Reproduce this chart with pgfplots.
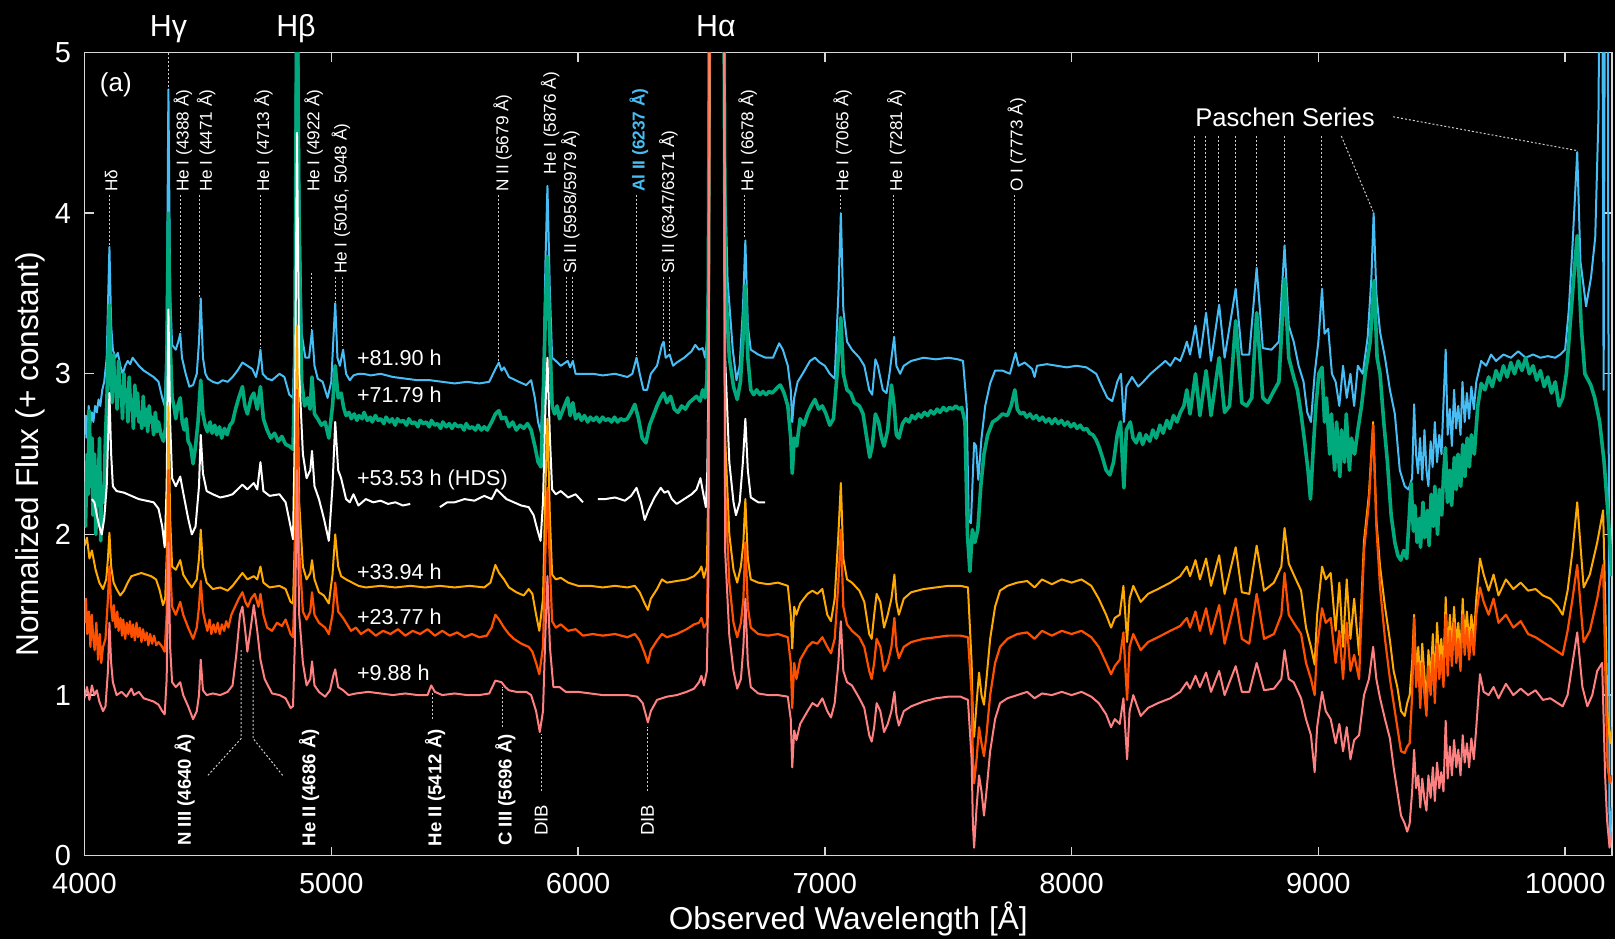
\documentclass[border=0pt]{standalone}
\usepackage{fontspec}
\setmainfont{Liberation Sans}
\usepackage{pgfplots}
\usepackage{pgfplotstable}
\pgfplotsset{compat=1.18}
\definecolor{cBlue}{RGB}{70,190,245}
\definecolor{cGreen}{RGB}{0,170,125}
\definecolor{cOrange}{RGB}{255,170,0}
\definecolor{cRed}{RGB}{255,80,0}
\definecolor{cSalmon}{RGB}{255,128,128}
\definecolor{cAxis}{RGB}{215,215,215}
\tikzset{
 ulab/.style={rotate=90, anchor=west, inner sep=0pt, text=white, font=\fontsize{8.6}{10}\selectfont},
 blab/.style={rotate=90, anchor=east, inner sep=0pt, text=white, font=\fontsize{9.3}{11}\selectfont\bfseries},
 ann/.style={white!80!black, line width=0.5pt, dash pattern=on 1pt off 1pt},
 slab/.style={anchor=west, inner sep=0pt, text=white, font=\fontsize{10.8}{13}\selectfont},
}
\pgfplotstableread{
x y
4000 0.98
4010 1.05
4020 0.97
4030 1.06
4040 1.0
4050 1.03
4060 0.96
4075 0.9
4085 0.93
4095 1.15
4101 1.45
4108 1.2
4115 1.08
4130 1.0
4150 1.02
4170 0.99
4190 1.04
4200 1.0
4220 1.02
4240 0.98
4260 0.97
4280 0.96
4300 0.94
4315 0.9
4325 0.88
4333 1.1
4340 1.95
4347 1.3
4355 1.08
4370 1.05
4388 1.08
4400 1.0
4420 0.93
4440 0.85
4455 0.9
4464 1.0
4471 1.22
4480 1.03
4495 1.0
4520 1.01
4550 1.0
4580 1.02
4600 1.06
4615 1.25
4630 1.5
4640 1.55
4650 1.42
4660 1.27
4672 1.4
4686 1.56
4700 1.4
4713 1.22
4730 1.1
4760 1.01
4790 1.0
4815 0.98
4835 0.92
4845 0.93
4852 1.3
4861 2.4
4870 1.5
4885 1.2
4900 1.06
4915 1.1
4922 1.21
4932 1.06
4950 1.02
4975 0.99
4995 1.03
5008 1.12
5016 1.16
5028 1.05
5048 1.03
5070 1.0
5100 1.01
5150 1.02
5200 1.01
5250 1.0
5300 1.01
5350 1.0
5390 1.0
5405 1.06
5420 1.02
5450 1.0
5500 1.01
5550 1.0
5600 1.0
5640 1.01
5665 1.09
5690 1.08
5705 1.05
5720 1.03
5750 1.02
5790 1.02
5810 1.0
5830 0.9
5845 0.77
5858 0.9
5868 1.4
5876 1.74
5886 1.3
5900 1.05
5925 1.05
5950 1.02
6000 1.02
6050 1.01
6100 1.0
6150 1.0
6200 1.0
6240 0.99
6262 0.95
6283 0.83
6295 0.9
6320 0.97
6360 0.99
6400 1.0
6440 1.02
6470 1.04
6490 1.08
6500 1.12
6510 1.06
6522 1.15
6528 1.7
6534 6
6545 9
6563 12
6580 9
6590 6
6596 1.9
6613 1.37
6630 1.15
6645 1.04
6660 1.1
6670 1.3
6678 1.6
6688 1.2
6700 1.05
6730 1.01
6770 1.0
6810 1.0
6850 0.99
6862 0.85
6868 0.55
6876 0.78
6885 0.72
6900 0.82
6930 0.9
6950 0.95
6970 0.93
6990 0.98
7010 0.9
7025 0.86
7040 0.95
7055 1.2
7065 1.46
7075 1.15
7090 1.08
7110 1.06
7140 0.98
7160 0.92
7180 0.75
7190 0.71
7200 0.8
7210 0.95
7225 0.9
7240 0.77
7255 0.82
7270 0.9
7282 1.02
7290 0.88
7300 0.81
7320 0.9
7350 0.93
7400 0.96
7450 0.98
7500 0.99
7550 0.99
7580 0.97
7595 0.6
7600 0.2
7605 0.05
7615 0.3
7625 0.5
7635 0.4
7645 0.25
7655 0.4
7670 0.65
7690 0.85
7710 0.95
7740 0.98
7780 1.0
7820 1.02
7850 0.98
7880 1.01
7920 1.0
7960 1.02
8000 1.0
8040 1.02
8080 0.99
8110 0.95
8140 0.88
8160 0.8
8175 0.85
8195 0.82
8210 0.98
8225 0.6
8235 0.9
8250 1.0
8280 0.87
8310 0.92
8350 0.95
8400 0.98
8440 1.02
8467 1.08
8480 1.04
8502 1.12
8520 1.05
8545 1.14
8565 1.02
8598 1.15
8620 1.0
8665 1.18
8690 1.02
8720 1.02
8750 1.2
8780 1.03
8820 1.04
8850 1.1
8863 1.28
8880 1.1
8900 1.08
8930 0.98
8950 0.85
8970 0.75
8985 0.52
8995 0.8
9015 1.02
9030 0.9
9050 0.85
9070 0.7
9085 0.82
9100 0.65
9115 0.8
9130 0.6
9145 0.72
9165 0.75
9185 1.0
9205 1.1
9222 1.3
9235 1.1
9250 0.98
9270 0.85
9290 0.73
9305 0.55
9320 0.4
9335 0.25
9350 0.2
9360 0.15
9370 0.2
9380 0.4
9388 0.66
9396 0.42
9405 0.5
9413 0.3
9421 0.48
9430 0.35
9438 0.28
9446 0.5
9455 0.36
9464 0.55
9472 0.34
9481 0.58
9490 0.42
9498 0.52
9507 0.4
9516 0.84
9524 0.48
9533 0.68
9541 0.5
9550 0.72
9559 0.55
9567 0.66
9576 0.5
9585 0.75
9593 0.58
9602 0.7
9611 0.55
9620 0.73
9630 0.6
9640 0.8
9655 1.13
9670 1.02
9690 1.0
9710 1.05
9730 0.98
9760 1.07
9790 1.0
9820 1.04
9850 1.0
9880 1.03
9910 0.97
9940 0.98
9970 0.95
9990 0.93
10010 1.0
10030 1.2
10049 1.39
10070 1.05
10090 0.93
10110 1.0
10130 1.15
10150 1.2
10162 0.5
10170 0.22
10180 0.05
10190 0.15
}\tSalmon
\pgfplotstableread{
x y
4000 1.45
4006 1.6
4011 1.38
4018 1.52
4024 1.3
4029 1.5
4036 1.35
4041 1.28
4048 1.45
4055 1.22
4062 1.38
4068 1.2
4075 1.3
4085 1.35
4095 1.6
4101 1.8
4108 1.55
4114 1.46
4119 1.56
4126 1.42
4133 1.52
4138 1.4
4146 1.48
4152 1.37
4157 1.47
4165 1.35
4171 1.45
4178 1.38
4184 1.46
4191 1.36
4197 1.44
4204 1.34
4211 1.45
4217 1.36
4224 1.42
4231 1.33
4237 1.41
4245 1.34
4252 1.39
4259 1.31
4266 1.38
4274 1.32
4282 1.37
4291 1.31
4300 1.33
4315 1.3
4325 1.27
4333 1.5
4340 2.4
4347 1.8
4355 1.55
4370 1.5
4388 1.58
4400 1.5
4420 1.42
4440 1.35
4455 1.42
4464 1.55
4471 1.71
4480 1.52
4490 1.45
4498 1.4
4507 1.47
4514 1.38
4523 1.44
4531 1.39
4540 1.45
4548 1.38
4557 1.44
4566 1.4
4574 1.46
4583 1.42
4595 1.5
4610 1.55
4625 1.6
4640 1.64
4652 1.58
4662 1.55
4675 1.6
4690 1.63
4705 1.55
4713 1.63
4725 1.5
4740 1.42
4760 1.4
4780 1.45
4800 1.43
4815 1.47
4835 1.38
4845 1.36
4852 1.7
4861 2.9
4870 1.9
4885 1.52
4900 1.47
4915 1.52
4922 1.64
4932 1.5
4950 1.45
4975 1.42
4990 1.38
5005 1.5
5016 1.7
5028 1.52
5048 1.48
5060 1.45
5080 1.4
5100 1.42
5120 1.38
5150 1.41
5180 1.37
5210 1.4
5240 1.38
5270 1.41
5300 1.37
5330 1.4
5360 1.38
5390 1.41
5420 1.37
5450 1.4
5480 1.37
5510 1.39
5540 1.36
5570 1.38
5600 1.36
5630 1.37
5650 1.42
5665 1.5
5680 1.47
5700 1.42
5720 1.38
5740 1.35
5770 1.32
5800 1.3
5815 1.27
5830 1.2
5843 1.13
5858 1.3
5868 1.9
5876 2.29
5886 1.8
5895 1.46
5910 1.42
5930 1.44
5960 1.4
5990 1.41
6020 1.37
6060 1.38
6100 1.37
6150 1.38
6200 1.36
6230 1.38
6250 1.34
6270 1.26
6283 1.2
6295 1.28
6320 1.34
6340 1.38
6360 1.36
6400 1.38
6440 1.41
6470 1.44
6490 1.45
6500 1.48
6510 1.42
6522 1.45
6528 2.0
6534 6
6545 9
6563 12
6580 9
6590 6
6596 2.3
6613 1.7
6630 1.45
6645 1.36
6660 1.45
6670 1.6
6678 1.95
6688 1.55
6700 1.42
6730 1.38
6770 1.37
6810 1.38
6850 1.36
6862 1.2
6868 0.92
6876 1.2
6885 1.1
6900 1.22
6930 1.3
6950 1.33
6970 1.32
6990 1.36
7010 1.3
7025 1.26
7040 1.35
7055 1.7
7065 2.03
7075 1.55
7090 1.44
7110 1.4
7140 1.36
7160 1.3
7180 1.15
7190 1.1
7200 1.2
7210 1.35
7225 1.3
7240 1.15
7255 1.2
7270 1.3
7282 1.48
7290 1.3
7300 1.23
7320 1.3
7350 1.33
7400 1.35
7450 1.36
7500 1.37
7550 1.37
7580 1.36
7595 1.0
7600 0.6
7605 0.45
7615 0.6
7625 0.8
7635 0.7
7645 0.62
7655 0.75
7670 1.0
7690 1.2
7710 1.3
7740 1.35
7780 1.38
7820 1.39
7850 1.35
7880 1.4
7920 1.37
7960 1.4
8000 1.38
8040 1.4
8080 1.36
8110 1.3
8140 1.2
8160 1.13
8175 1.18
8195 1.22
8210 1.39
8225 0.97
8235 1.3
8250 1.38
8280 1.28
8310 1.33
8350 1.36
8400 1.4
8440 1.43
8467 1.48
8480 1.42
8502 1.52
8520 1.4
8545 1.54
8565 1.38
8598 1.56
8620 1.32
8665 1.6
8690 1.35
8720 1.32
8750 1.63
8780 1.35
8820 1.38
8850 1.5
8863 1.76
8880 1.5
8900 1.45
8930 1.38
8950 1.2
8970 1.1
8985 1.0
8995 1.3
9015 1.54
9030 1.45
9050 1.48
9070 1.2
9085 1.4
9100 1.1
9115 1.45
9130 1.15
9145 1.25
9165 1.1
9185 1.9
9205 2.2
9222 2.68
9235 2.05
9250 1.67
9270 1.35
9290 1.1
9305 0.95
9320 0.8
9335 0.65
9350 0.64
9360 0.68
9370 0.7
9380 1.0
9388 1.48
9396 1.05
9405 1.2
9413 0.92
9421 1.2
9430 1.0
9438 0.87
9446 1.18
9455 1.0
9464 1.25
9472 0.95
9481 1.32
9490 1.1
9498 1.25
9507 1.05
9516 1.5
9524 1.12
9533 1.4
9541 1.18
9550 1.45
9559 1.2
9567 1.35
9576 1.15
9585 1.5
9593 1.25
9602 1.42
9611 1.22
9620 1.4
9630 1.25
9640 1.5
9655 1.67
9670 1.58
9690 1.5
9710 1.6
9730 1.45
9760 1.5
9790 1.42
9820 1.46
9850 1.38
9880 1.36
9910 1.33
9940 1.3
9970 1.27
9990 1.25
10010 1.4
10030 1.6
10049 1.81
10075 1.33
10100 1.4
10130 1.6
10154 1.81
10165 1.0
10172 0.55
10182 0.45
10190 0.5
}\tRed
\pgfplotstableread{
x y
4000 1.93
4010 1.98
4020 1.85
4030 1.9
4045 1.78
4060 1.7
4075 1.66
4088 1.72
4095 1.85
4101 2.01
4108 1.8
4118 1.7
4130 1.66
4145 1.62
4160 1.65
4175 1.7
4190 1.74
4210 1.75
4230 1.76
4250 1.75
4270 1.74
4290 1.72
4305 1.65
4318 1.56
4327 1.6
4334 1.9
4340 2.8
4347 2.1
4355 1.8
4370 1.78
4388 1.84
4400 1.75
4420 1.7
4435 1.67
4455 1.72
4464 1.85
4471 2.03
4480 1.8
4495 1.7
4520 1.66
4550 1.67
4580 1.65
4600 1.68
4620 1.72
4640 1.76
4660 1.72
4686 1.74
4700 1.72
4713 1.8
4725 1.7
4750 1.67
4790 1.68
4815 1.66
4835 1.58
4845 1.57
4852 1.95
4861 3.3
4870 2.2
4885 1.8
4900 1.72
4915 1.76
4922 1.84
4932 1.72
4950 1.64
4970 1.62
4990 1.57
5005 1.75
5016 2.0
5028 1.8
5040 1.74
5060 1.72
5085 1.7
5110 1.68
5140 1.67
5200 1.68
5260 1.67
5320 1.68
5380 1.67
5440 1.68
5500 1.67
5560 1.68
5620 1.67
5645 1.7
5665 1.81
5680 1.76
5700 1.72
5720 1.67
5750 1.64
5780 1.62
5800 1.66
5815 1.63
5830 1.5
5843 1.4
5858 1.6
5868 2.3
5876 2.72
5886 2.1
5895 1.75
5910 1.72
5930 1.73
5960 1.7
6000 1.68
6050 1.68
6100 1.67
6150 1.68
6200 1.67
6230 1.68
6250 1.64
6270 1.57
6283 1.53
6295 1.6
6320 1.66
6340 1.72
6360 1.7
6400 1.71
6440 1.72
6470 1.74
6490 1.77
6500 1.8
6510 1.73
6522 1.8
6528 2.3
6534 6
6545 9
6563 12
6580 9
6590 6
6596 2.6
6613 2.0
6630 1.78
6645 1.7
6660 1.8
6670 1.95
6678 2.22
6688 1.85
6700 1.72
6730 1.7
6770 1.69
6810 1.7
6850 1.68
6862 1.5
6868 1.29
6876 1.55
6885 1.5
6900 1.57
6930 1.63
6950 1.65
6970 1.63
6990 1.66
7010 1.5
7025 1.46
7040 1.6
7055 2.0
7065 2.32
7075 1.85
7090 1.72
7110 1.7
7140 1.65
7160 1.58
7180 1.38
7190 1.35
7200 1.5
7210 1.63
7225 1.58
7240 1.42
7255 1.5
7270 1.6
7282 1.75
7290 1.58
7300 1.5
7320 1.6
7350 1.64
7400 1.66
7450 1.67
7500 1.68
7550 1.68
7580 1.67
7595 1.2
7600 0.85
7605 0.74
7615 0.95
7625 1.14
7635 1.0
7645 0.94
7655 1.1
7670 1.35
7690 1.55
7710 1.65
7740 1.68
7780 1.7
7820 1.71
7850 1.67
7880 1.72
7920 1.69
7960 1.72
8000 1.7
8040 1.72
8080 1.68
8110 1.6
8140 1.5
8160 1.42
8175 1.48
8195 1.5
8210 1.68
8225 1.33
8235 1.6
8250 1.68
8280 1.58
8310 1.63
8350 1.66
8400 1.7
8440 1.74
8467 1.8
8480 1.74
8502 1.84
8520 1.72
8545 1.85
8565 1.68
8598 1.87
8620 1.63
8665 1.92
8690 1.64
8720 1.63
8750 1.93
8780 1.65
8820 1.7
8850 1.8
8863 2.04
8880 1.82
8900 1.75
8930 1.65
8950 1.42
8970 1.3
8985 1.19
8995 1.5
9015 1.8
9030 1.72
9050 1.76
9070 1.4
9085 1.7
9100 1.3
9115 1.72
9130 1.35
9145 1.6
9165 1.25
9185 1.96
9205 2.25
9222 2.7
9235 2.09
9250 1.8
9270 1.55
9290 1.34
9305 1.15
9320 1.05
9335 0.9
9350 0.87
9360 0.95
9370 1.0
9380 1.2
9388 1.5
9396 1.15
9405 1.3
9413 1.05
9421 1.32
9430 1.12
9438 0.95
9446 1.28
9455 1.1
9464 1.38
9472 1.05
9481 1.45
9490 1.2
9498 1.35
9507 1.15
9516 1.61
9524 1.25
9533 1.5
9541 1.28
9550 1.55
9559 1.3
9567 1.45
9576 1.25
9585 1.6
9593 1.35
9602 1.52
9611 1.32
9620 1.5
9630 1.35
9640 1.6
9655 1.85
9670 1.75
9690 1.65
9710 1.75
9730 1.62
9760 1.72
9790 1.66
9820 1.7
9850 1.65
9880 1.66
9910 1.62
9940 1.6
9970 1.55
9990 1.5
10010 1.65
10030 1.9
10049 2.2
10075 1.67
10100 1.75
10130 1.95
10154 2.15
10165 1.4
10172 0.87
10182 0.7
10190 0.8
}\tOrange
\pgfplotstableread{
x y
4030 2.22
4040 2.2
4050 2.12
4060 2.05
4070 2.0
4080 2.1
4090 2.3
4101 2.88
4108 2.5
4115 2.3
4130 2.27
4160 2.26
4190 2.24
4220 2.22
4250 2.21
4280 2.2
4300 2.16
4315 2.05
4325 1.92
4333 2.3
4340 3.4
4347 2.7
4355 2.35
4370 2.3
4388 2.36
4400 2.26
4420 2.1
4435 2.0
4450 2.05
4464 2.3
4471 2.62
4480 2.38
4495 2.27
4520 2.25
4550 2.23
4580 2.24
4600 2.25
4620 2.28
4640 2.31
4660 2.28
4686 2.32
4700 2.28
4713 2.45
4725 2.27
4750 2.24
4790 2.25
4815 2.2
4835 2.05
4845 1.97
4852 2.6
4861 4.5
4870 3.0
4885 2.5
4900 2.35
4915 2.4
4922 2.52
4932 2.3
4950 2.22
4970 2.1
4990 1.96
5005 2.3
5016 2.7
5028 2.4
5040 2.35
5060 2.22
5075 2.2
5090 2.25
5110 2.18
5140 2.22
5170 2.2
5200 2.21
5230 2.19
5260 2.2
5290 2.18
5320 2.19
5321 nan
5440 2.17
5470 2.2
5500 2.2
5540 2.22
5580 2.21
5620 2.24
5650 2.22
5670 2.28
5690 2.25
5710 2.22
5740 2.2
5770 2.18
5800 2.17
5820 2.12
5835 2.03
5848 1.96
5858 2.2
5868 2.8
5876 3.1
5886 2.6
5895 2.28
5910 2.25
5930 2.27
5960 2.23
5990 2.25
6020 2.2
6021 nan
6080 2.22
6110 2.22
6150 2.23
6190 2.21
6215 2.24
6237 2.29
6255 2.2
6270 2.09
6285 2.15
6310 2.23
6335 2.29
6350 2.26
6365 2.27
6380 2.22
6400 2.19
6430 2.22
6460 2.25
6480 2.28
6496 2.35
6508 2.25
6518 2.17
6524 2.4
6529 3.0
6534 6
6545 9
6563 12
6580 9
6590 6
6596 3.1
6613 2.45
6630 2.2
6640 2.12
6655 2.2
6668 2.45
6678 2.72
6688 2.4
6700 2.23
6730 2.2
6758 2.2
}\tWhite
\pgfplotstableread{
x y
4000 2.3
4004 2.05
4011 2.5
4015 2.25
4019 2.77
4026 2.3
4031 2.6
4034 2.12
4041 2.5
4046 2.0
4051 2.42
4054 2.18
4061 2.6
4066 1.96
4070 2.3
4078 2.2
4085 2.6
4092 2.9
4101 3.43
4106 3.0
4112 2.82
4118 3.12
4122 2.9
4127 2.95
4132 2.78
4138 3.08
4143 2.86
4149 2.92
4154 2.72
4160 3.0
4164 2.83
4170 2.9
4176 2.7
4181 2.98
4187 2.78
4192 2.84
4198 2.66
4204 2.93
4209 2.74
4215 2.88
4221 2.7
4226 2.76
4232 2.66
4238 2.86
4244 2.68
4250 2.78
4256 2.64
4262 2.8
4268 2.7
4274 2.73
4280 2.62
4287 2.76
4294 2.64
4300 2.7
4310 2.62
4320 2.58
4328 2.66
4334 3.1
4340 4.0
4347 3.2
4355 2.85
4362 2.8
4370 2.72
4378 2.8
4388 2.85
4396 2.7
4404 2.65
4412 2.72
4420 2.58
4430 2.55
4440 2.44
4450 2.55
4460 2.7
4471 2.96
4480 2.75
4489 2.68
4498 2.64
4509 2.7
4517 2.63
4528 2.68
4536 2.62
4547 2.67
4556 2.6
4567 2.66
4578 2.62
4589 2.68
4600 2.7
4612 2.78
4625 2.85
4640 2.92
4650 2.8
4660 2.75
4675 2.85
4686 2.88
4700 2.78
4713 2.92
4725 2.72
4740 2.65
4755 2.6
4770 2.63
4785 2.58
4800 2.61
4815 2.56
4830 2.55
4845 2.53
4852 3.0
4861 5.6
4870 3.8
4880 2.95
4892 2.8
4905 2.85
4914 2.78
4922 2.98
4932 2.75
4945 2.72
4960 2.68
4975 2.7
4990 2.6
5005 2.8
5016 3.05
5028 2.85
5040 2.88
5050 2.79
5060 2.74
5072 2.76
5081 2.72
5093 2.75
5104 2.71
5112 2.74
5125 2.72
5133 2.76
5146 2.71
5158 2.73
5166 2.7
5179 2.74
5190 2.71
5201 2.72
5213 2.69
5222 2.73
5236 2.7
5247 2.72
5259 2.68
5268 2.72
5281 2.7
5292 2.71
5305 2.68
5314 2.72
5327 2.69
5338 2.7
5351 2.67
5360 2.71
5373 2.69
5385 2.7
5397 2.67
5406 2.71
5419 2.68
5431 2.69
5443 2.66
5452 2.7
5466 2.67
5478 2.69
5489 2.66
5500 2.69
5513 2.67
5525 2.68
5538 2.65
5547 2.69
5559 2.66
5572 2.67
5584 2.65
5595 2.68
5608 2.65
5620 2.67
5632 2.65
5650 2.7
5665 2.75
5679 2.77
5690 2.72
5705 2.73
5720 2.67
5735 2.7
5750 2.65
5765 2.68
5780 2.66
5795 2.69
5810 2.65
5825 2.55
5838 2.45
5850 2.42
5860 2.9
5868 3.4
5876 3.73
5886 3.2
5895 2.8
5905 2.75
5915 2.8
5925 2.72
5940 2.78
5958 2.85
5968 2.74
5979 2.82
5990 2.72
6003 2.75
6014 2.71
6026 2.74
6039 2.7
6050 2.73
6062 2.71
6075 2.73
6087 2.7
6099 2.73
6111 2.71
6124 2.72
6136 2.7
6148 2.73
6160 2.7
6173 2.72
6186 2.71
6200 2.72
6215 2.76
6230 2.81
6245 2.72
6260 2.6
6275 2.57
6290 2.68
6305 2.74
6320 2.8
6335 2.85
6347 2.88
6360 2.82
6375 2.86
6390 2.78
6405 2.76
6420 2.8
6435 2.78
6450 2.82
6465 2.84
6480 2.86
6495 2.83
6505 2.9
6515 2.85
6522 2.95
6528 3.5
6534 6
6545 9
6563 12
6580 9
6590 6
6596 3.6
6613 3.1
6630 2.92
6645 2.84
6658 2.95
6668 3.2
6678 3.55
6688 3.1
6700 2.9
6712 2.87
6724 2.9
6737 2.87
6749 2.89
6762 2.87
6774 2.89
6786 2.88
6799 2.9
6811 2.92
6820 2.93
6835 2.88
6850 2.8
6862 2.6
6868 2.38
6876 2.6
6886 2.55
6900 2.72
6915 2.68
6930 2.75
6945 2.8
6960 2.84
6975 2.78
6990 2.8
7005 2.75
7020 2.68
7035 2.72
7050 3.0
7065 3.35
7075 3.0
7090 2.9
7105 2.88
7120 2.82
7140 2.8
7155 2.75
7170 2.6
7182 2.48
7192 2.55
7205 2.75
7218 2.7
7230 2.6
7240 2.55
7255 2.65
7270 2.93
7281 2.8
7290 2.62
7300 2.6
7315 2.69
7328 2.72
7341 2.7
7353 2.74
7366 2.72
7379 2.75
7391 2.73
7404 2.76
7417 2.74
7429 2.77
7442 2.75
7455 2.78
7467 2.76
7480 2.79
7493 2.77
7505 2.79
7518 2.78
7531 2.8
7544 2.78
7555 2.79
7568 2.7
7578 2.0
7588 1.77
7598 2.03
7608 1.95
7620 2.03
7632 2.3
7645 2.5
7660 2.62
7680 2.7
7700 2.72
7720 2.75
7740 2.74
7755 2.8
7770 2.9
7780 2.78
7793 2.75
7806 2.76
7818 2.73
7831 2.75
7844 2.72
7857 2.74
7869 2.71
7882 2.73
7895 2.7
7908 2.72
7920 2.69
7933 2.72
7946 2.69
7959 2.71
7971 2.68
7984 2.7
7997 2.67
8010 2.69
8022 2.66
8035 2.68
8048 2.65
8061 2.66
8073 2.63
8086 2.62
8099 2.59
8110 2.55
8125 2.48
8140 2.4
8155 2.37
8170 2.45
8185 2.62
8198 2.7
8212 2.29
8222 2.65
8238 2.7
8249 2.6
8262 2.57
8276 2.63
8288 2.56
8302 2.62
8317 2.58
8329 2.65
8343 2.6
8358 2.68
8371 2.63
8386 2.71
8398 2.66
8413 2.74
8427 2.7
8441 2.76
8455 2.8
8467 2.9
8480 2.75
8502 3.0
8520 2.74
8545 3.02
8565 2.74
8598 3.1
8620 2.76
8640 2.8
8665 3.33
8690 2.82
8710 2.8
8730 2.85
8750 3.38
8775 2.85
8795 2.82
8815 2.88
8840 2.95
8863 3.59
8880 3.1
8900 2.98
8915 2.9
8930 2.75
8945 2.57
8958 2.4
8968 2.22
8978 2.5
8990 2.8
9002 3.0
9015 3.04
9025 2.7
9033 2.85
9046 2.5
9053 2.75
9066 2.4
9074 2.7
9087 2.36
9094 2.65
9106 2.45
9113 2.75
9126 2.4
9134 2.6
9147 2.5
9160 2.65
9175 2.8
9190 3.0
9210 3.2
9226 3.58
9238 3.1
9250 3.0
9265 2.7
9280 2.45
9295 2.12
9310 1.95
9322 1.87
9334 1.84
9346 1.9
9358 1.85
9368 2.1
9376 2.32
9385 2.02
9391 2.18
9400 1.95
9409 2.1
9414 1.92
9424 2.2
9431 1.98
9442 2.15
9449 1.93
9457 2.25
9466 2.05
9472 2.3
9483 2.0
9491 2.28
9500 2.12
9507 2.36
9515 2.54
9523 2.2
9533 2.4
9540 2.18
9551 2.48
9559 2.28
9566 2.5
9577 2.3
9585 2.56
9594 2.36
9603 2.6
9612 2.42
9620 2.62
9632 2.5
9646 2.8
9660 2.94
9675 2.9
9690 2.98
9705 2.92
9720 3.02
9735 2.96
9750 3.05
9765 2.98
9780 3.07
9795 3.0
9810 3.08
9825 3.02
9840 3.1
9855 3.0
9870 3.05
9885 2.96
9900 3.02
9915 2.92
9930 2.98
9945 2.88
9960 2.95
9975 2.8
9990 2.85
10005 3.0
10020 3.3
10035 3.6
10049 3.86
10065 3.3
10080 3.0
10104 2.93
10120 2.85
10140 2.7
10158 2.45
10175 2.1
10190 1.74
}\tGreen
\pgfplotstableread{
x y
4000 2.6
4006 2.74
4011 2.6
4017 2.8
4023 2.68
4030 2.76
4036 2.7
4043 2.8
4050 2.76
4057 2.84
4064 2.8
4072 2.9
4080 2.95
4090 3.1
4101 3.79
4108 3.3
4115 3.15
4125 3.1
4135 3.13
4145 3.05
4155 3.0
4165 3.05
4175 3.08
4185 3.06
4195 3.1
4205 3.08
4220 3.05
4240 3.02
4260 3.0
4280 2.98
4300 2.95
4315 2.85
4325 2.8
4333 3.2
4340 4.77
4347 3.5
4355 3.18
4370 3.15
4380 3.2
4388 3.25
4395 3.1
4410 3.0
4425 2.92
4440 2.93
4455 3.0
4464 3.2
4471 3.47
4480 3.1
4490 3.0
4500 2.97
4520 2.95
4540 2.94
4560 2.96
4580 2.95
4600 2.98
4620 3.02
4640 3.07
4660 3.05
4680 3.03
4695 2.98
4705 3.05
4713 3.15
4722 3.0
4740 2.97
4760 2.96
4790 3.0
4810 2.98
4830 2.87
4845 2.85
4852 3.3
4861 6.5
4870 4.2
4880 3.25
4895 3.1
4910 3.1
4922 3.27
4932 3.05
4945 2.97
4965 2.95
4985 2.85
5000 2.95
5008 3.2
5016 3.44
5025 3.1
5035 3.05
5048 3.15
5060 3.0
5075 2.96
5090 2.99
5110 3.0
5130 3.0
5160 2.99
5200 3.0
5250 2.98
5300 2.97
5350 2.96
5400 2.96
5450 2.95
5500 2.94
5550 2.95
5600 2.94
5640 2.95
5665 3.03
5679 3.07
5690 3.02
5700 3.04
5720 2.98
5760 2.95
5790 2.93
5810 2.96
5825 2.85
5838 2.7
5850 2.63
5860 3.0
5868 3.7
5876 4.17
5886 3.5
5895 3.1
5910 3.08
5930 3.05
5958 3.08
5968 3.04
5979 3.08
5990 3.0
6020 3.0
6060 3.0
6100 2.99
6150 3.0
6200 2.98
6220 3.0
6237 3.1
6250 3.0
6265 2.9
6280 2.9
6295 3.0
6320 3.05
6340 3.18
6347 3.2
6355 3.1
6371 3.12
6385 3.05
6400 3.07
6430 3.1
6460 3.14
6475 3.18
6490 3.15
6505 3.16
6515 3.1
6522 3.2
6528 3.7
6534 6
6545 9
6563 12
6580 9
6590 6
6596 4.2
6606 3.58
6627 3.15
6642 2.96
6655 3.05
6668 3.4
6678 3.83
6688 3.3
6700 3.15
6730 3.12
6760 3.1
6790 3.1
6815 3.19
6830 3.15
6850 3.05
6862 2.9
6868 2.7
6876 2.85
6890 2.95
6910 3.0
6940 3.08
6960 3.1
6980 3.07
7000 3.05
7020 3.0
7040 2.97
7055 3.5
7065 4.0
7075 3.4
7090 3.2
7110 3.15
7140 3.1
7160 3.05
7180 2.9
7192 2.87
7205 3.09
7215 3.05
7235 2.9
7250 2.88
7262 3.0
7281 3.23
7290 3.05
7305 3.0
7320 3.05
7350 3.08
7400 3.1
7450 3.09
7500 3.1
7540 3.09
7560 3.08
7575 2.8
7583 2.09
7592 2.07
7605 2.57
7613 2.55
7622 2.34
7635 2.6
7650 2.8
7670 2.94
7690 3.02
7720 3.02
7750 3.0
7773 3.13
7785 3.05
7810 3.07
7840 3.03
7850 2.98
7860 3.05
7900 3.06
7940 3.05
7980 3.04
8020 3.05
8060 3.04
8100 3.0
8120 2.93
8145 2.85
8165 2.83
8185 2.95
8200 3.0
8212 2.7
8222 2.92
8245 2.98
8270 2.92
8290 2.95
8320 3.0
8350 3.04
8380 3.08
8400 3.05
8420 3.1
8440 3.08
8455 3.14
8467 3.2
8480 3.12
8502 3.3
8520 3.1
8545 3.38
8565 3.08
8598 3.43
8620 3.1
8665 3.53
8690 3.12
8720 3.12
8750 3.66
8775 3.16
8810 3.15
8840 3.2
8863 3.8
8880 3.3
8900 3.2
8920 3.05
8940 2.95
8955 2.76
8970 2.7
8985 3.0
9000 3.2
9015 3.53
9025 3.25
9040 3.28
9055 3.0
9070 2.95
9085 2.8
9100 3.05
9115 2.85
9130 3.0
9145 2.8
9160 3.05
9180 3.0
9200 3.23
9215 3.6
9224 4.0
9235 3.5
9250 3.26
9270 3.1
9290 2.9
9310 2.75
9330 2.4
9350 2.3
9365 2.28
9380 2.35
9388 2.81
9396 2.5
9404 2.38
9412 2.6
9421 2.34
9430 2.65
9438 2.4
9446 2.3
9455 2.58
9463 2.42
9472 2.7
9481 2.45
9490 2.62
9499 2.5
9508 2.85
9516 3.15
9524 2.62
9533 2.78
9541 2.55
9550 2.9
9558 2.66
9567 2.8
9576 2.62
9584 2.95
9593 2.7
9602 2.88
9611 2.72
9620 2.92
9630 2.78
9640 2.95
9660 3.08
9680 3.05
9700 3.12
9720 3.08
9750 3.12
9780 3.1
9810 3.14
9840 3.1
9870 3.12
9900 3.1
9930 3.11
9960 3.1
9980 3.12
10000 3.15
10015 3.4
10030 3.8
10049 4.38
10062 3.7
10085 3.42
10105 3.6
10122 3.85
10135 4.6
10142 6
10150 6
10156 2.9
10162 6
10172 6
10180 0.1
10190 0.3
}\tBlue
\begin{document}
\begin{tikzpicture}
\fill[black] (-42.25pt,-41.65pt) rectangle (765.25pt,427.85pt);
\useasboundingbox (-42.25pt,-41.65pt) rectangle (765.25pt,427.85pt);
\begin{axis}[
  at={(0pt,0pt)}, anchor=south west,
  scale only axis, width=763.75pt, height=401.6pt,
  xmin=4000, xmax=10190, ymin=0, ymax=5,
  clip mode=individual,
  axis line style={cAxis, line width=0.7pt},
  xtick={4000,5000,6000,7000,8000,9000,10000},
  xticklabels={4000,5000,6000,7000,8000,9000,10000},
  ytick={0,1,2,3,4,5}, yticklabels={0,1,2,3,4,5},
  tick style={cAxis, line width=0.7pt}, major tick length=4.5pt, tick align=inside,
  minor tick num=0,
  ticklabel style={text=white, font=\fontsize{14.5}{17}\selectfont},
  xticklabel style={anchor=base, yshift=-18.8pt},
  yticklabel style={anchor=east, inner sep=0pt, xshift=-6.5pt},
  xlabel={Observed Wavelength [Å]},
  ylabel={Normalized Flux (+ constant)},
  every axis x label/.style={at={(axis description cs:0.5,-0.0921)}, anchor=base, text=white, font=\fontsize{15.8}{19}\selectfont},
  every axis y label/.style={at={(axis description cs:-0.0301,0.5)}, anchor=base, rotate=90, text=white, font=\fontsize{15.8}{19}\selectfont},
  unbounded coords=jump,
  scaled x ticks=false,
]
\addplot[cBlue, line width=1pt, line join=round] table {\tBlue};
\addplot[cGreen, line width=1.8pt, line join=round] table {\tGreen};
\addplot[white, line width=1pt, line join=round] table {\tWhite};
\addplot[cOrange, line width=1pt, line join=round] table {\tOrange};
\addplot[cRed, line width=1.1pt, line join=round] table {\tRed};
\addplot[cSalmon, line width=1pt, line join=round] table {\tSalmon};

% top labels
\node[anchor=base, text=white, font=\fontsize{15.2}{18}\selectfont, yshift=7.9pt] at (axis cs:4340,5) {Hγ};
\node[anchor=base, text=white, font=\fontsize{15.2}{18}\selectfont, yshift=7.9pt] at (axis cs:4857,5) {Hβ};
\node[anchor=base, text=white, font=\fontsize{15.2}{18}\selectfont, yshift=7.9pt] at (axis cs:6559,5) {Hα};
\draw[ann] (axis cs:4340,5) -- (axis cs:4340,4.77);

\node[anchor=west, inner sep=0pt, text=white, font=\fontsize{13}{15}\selectfont] at (axis cs:4061,4.80) {(a)};

% upper line labels
\draw[ann] (axis cs:4102,4.11) -- (axis cs:4102,3.8);
\node[ulab] at (axis cs:4108,4.13) {Hδ};
\draw[ann] (axis cs:4387,4.11) -- (axis cs:4387,3.26);
\node[ulab] at (axis cs:4399,4.13) {He I (4388 Å)};
\draw[ann] (axis cs:4468,4.11) -- (axis cs:4468,3.48);
\node[ulab] at (axis cs:4493,4.13) {He I (4471 Å)};
\draw[ann] (axis cs:4713,4.11) -- (axis cs:4713,3.16);
\node[ulab] at (axis cs:4725,4.13) {He I (4713 Å)};
\draw[ann] (axis cs:4918,3.63) -- (axis cs:4918,3.28);
\node[ulab] at (axis cs:4929,4.13) {He I (4922 Å)};
\draw[ann] (axis cs:5016,3.6) -- (axis cs:5016,3.45);
\draw[ann] (axis cs:5047,3.6) -- (axis cs:5047,3.17);
\node[ulab] at (axis cs:5039,3.62) {He I (5016, 5048 Å)};
\draw[ann] (axis cs:5678,4.11) -- (axis cs:5678,3.08);
\node[ulab] at (axis cs:5694,4.13) {N II (5679 Å)};
\node[ulab] at (axis cs:5887,4.24) {He I (5876 Å)};
\draw[ann] (axis cs:5953,3.6) -- (axis cs:5953,3.1);
\draw[ann] (axis cs:5977,3.6) -- (axis cs:5977,3.1);
\node[ulab] at (axis cs:5969,3.62) {Si II (5958/5979 Å)};
\draw[ann] (axis cs:6236,4.11) -- (axis cs:6236,3.11);
\node[ulab, text=cBlue, font=\fontsize{8.6}{10}\selectfont\bfseries] at (axis cs:6246,4.13) {Al II (6237 Å)};
\draw[ann] (axis cs:6346,3.6) -- (axis cs:6346,3.21);
\draw[ann] (axis cs:6370,3.6) -- (axis cs:6370,3.14);
\node[ulab] at (axis cs:6366,3.62) {Si II (6347/6371 Å)};
\draw[ann] (axis cs:6676,4.11) -- (axis cs:6676,3.84);
\node[ulab] at (axis cs:6687,4.13) {He I (6678 Å)};
\draw[ann] (axis cs:7062,4.11) -- (axis cs:7062,4.02);
\node[ulab] at (axis cs:7072,4.13) {He I (7065 Å)};
\draw[ann] (axis cs:7279,4.11) -- (axis cs:7279,3.24);
\node[ulab] at (axis cs:7290,4.13) {He I (7281 Å)};
\draw[ann] (axis cs:7770,4.11) -- (axis cs:7770,3.15);
\node[ulab] at (axis cs:7778,4.13) {O I (7773 Å)};

% Paschen
\node[anchor=west, inner sep=0pt, text=white, font=\fontsize{12.8}{15}\selectfont] at (axis cs:8500,4.595) {Paschen Series};
\draw[ann] (axis cs:8500,4.48) -- (axis cs:8500,3.31);
\draw[ann] (axis cs:8544,4.48) -- (axis cs:8544,3.39);
\draw[ann] (axis cs:8597,4.48) -- (axis cs:8597,3.44);
\draw[ann] (axis cs:8664,4.48) -- (axis cs:8664,3.54);
\draw[ann] (axis cs:8748,4.48) -- (axis cs:8748,3.67);
\draw[ann] (axis cs:8862,4.48) -- (axis cs:8862,3.81);
\draw[ann] (axis cs:9013,4.48) -- (axis cs:9013,3.54);
\draw[ann] (axis cs:9093,4.48) -- (axis cs:9222,4.01);
\draw[ann] (axis cs:9303,4.60) -- (axis cs:10047,4.39);

% series labels
\node[slab] at (axis cs:5103,3.10) {+81.90 h};
\node[slab] at (axis cs:5103,2.87) {+71.79 h};
\node[slab] at (axis cs:5103,2.34) {+53.53 h (HDS)};
\node[slab] at (axis cs:5103,1.77) {+33.94 h};
\node[slab] at (axis cs:5103,1.485) {+23.77 h};
\node[slab] at (axis cs:5103,1.14) {+9.88 h};

% bottom labels
\draw[ann] (axis cs:4500,0.50) -- (axis cs:4635,0.73) -- (axis cs:4635,1.28);
\draw[ann] (axis cs:4803,0.50) -- (axis cs:4683,0.73) -- (axis cs:4683,1.22);
\node[blab] at (axis cs:4406,0.76) {N III (4640 Å)};
\node[blab] at (axis cs:4910,0.79) {He II (4686 Å)};
\draw[ann] (axis cs:5411,0.85) -- (axis cs:5411,1.01);
\node[blab] at (axis cs:5421,0.79) {He II (5412 Å)};
\draw[ann] (axis cs:5694,0.80) -- (axis cs:5694,1.05);
\node[blab] at (axis cs:5705,0.76) {C III (5696 Å)};
\draw[ann] (axis cs:5850,0.40) -- (axis cs:5850,0.76);
\node[blab, font=\fontsize{9.3}{11}\selectfont] at (axis cs:5851,0.32) {DIB};
\draw[ann] (axis cs:6281,0.40) -- (axis cs:6281,0.80);
\node[blab, font=\fontsize{9.3}{11}\selectfont] at (axis cs:6281,0.32) {DIB};
\end{axis}
\end{tikzpicture}
\end{document}
